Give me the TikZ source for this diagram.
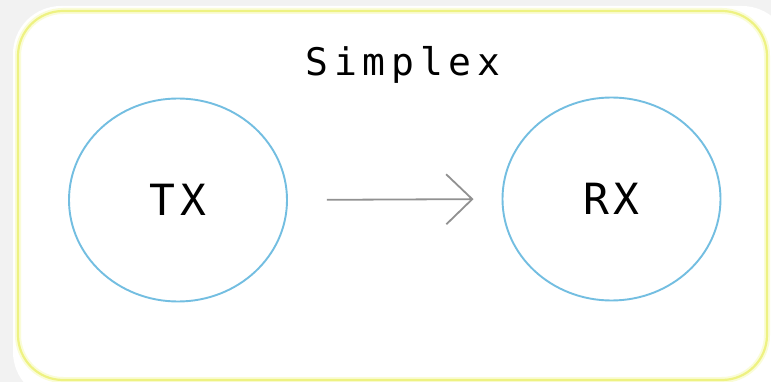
\documentclass[tikz,border=0pt]{standalone}
\usepackage{fontspec}
\setmonofont{DejaVu Sans Mono}
\usetikzlibrary{arrows.meta,shapes.geometric}
\definecolor{bggray}{RGB}{242,242,242}
\definecolor{frameyellow}{RGB}{238,242,130}
\definecolor{glowyellow}{RGB}{250,252,215}
\definecolor{circblue}{RGB}{115,190,225}
\definecolor{arrowgray}{RGB}{145,145,145}
\tikzset{
  station/.style={ellipse, draw=circblue, line width=1.9pt, minimum width=218pt, minimum height=203pt, inner sep=0pt,
    font=\ttfamily\fontsize{43}{43}\selectfont\addfontfeature{LetterSpace=10}},
  link/.style={draw=arrowgray, line width=1.8pt, -{Straight Barb[length=26pt,width=50pt,line width=1.8pt]}},
  titletext/.style={font=\ttfamily\fontsize{38}{38}\selectfont\addfontfeature{LetterSpace=15}}
}
\begin{document}
\begin{tikzpicture}[x=1pt,y=-1pt]
  \useasboundingbox (0,0) rectangle (771,382);
  \fill[bggray] (0,0) rectangle (771,382);
  \fill[white, rounded corners=48pt] (13,6) rectangle (790,400);
  \draw[glowyellow, line width=6pt, rounded corners=45pt] (18,11) rectangle (767,380);
  \draw[frameyellow, line width=2.2pt, rounded corners=45pt] (18,11) rectangle (767,380);
  \node[titletext] (title) at (403,65) {Simplex};
  \node[station] (tx) at (178,200) {TX};
  \node[station] (rx) at (611.5,199) {RX};
  \draw[link, shorten <=39pt, shorten >=28pt] (tx.east) -- (rx.west);
\end{tikzpicture}
\end{document}
